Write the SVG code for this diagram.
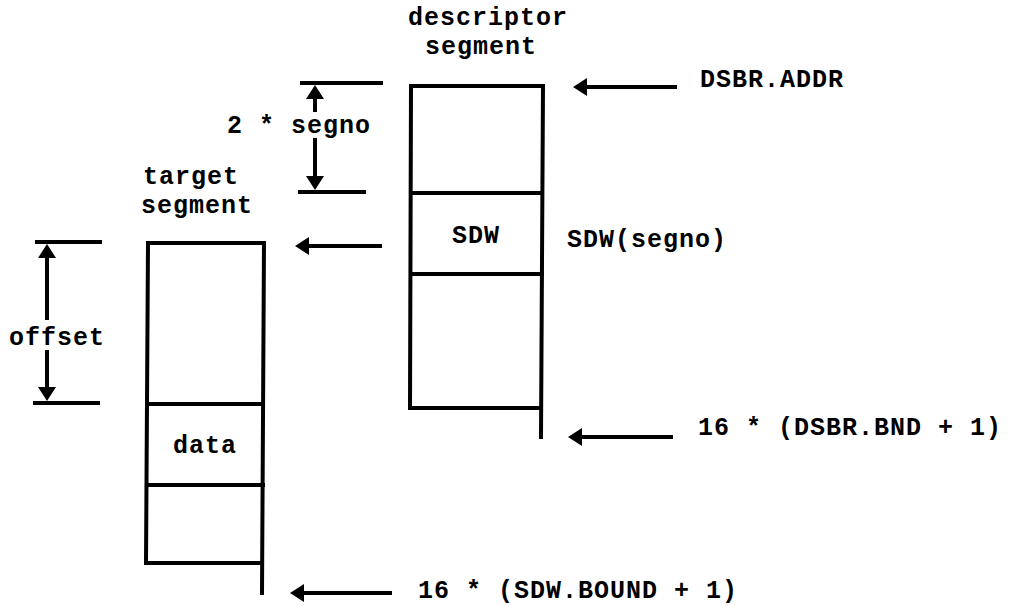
<svg xmlns="http://www.w3.org/2000/svg" width="1010" height="606" viewBox="0 0 1010 606">
<style>
.t{font-family:"Liberation Mono","DejaVu Sans Mono",monospace;font-size:25px;letter-spacing:1px;fill:#000;font-weight:bold}
.b{fill:none;stroke:#000;stroke-width:4;stroke-linejoin:miter;stroke-linecap:square}
.c{fill:none;stroke:#000;stroke-width:4}
</style>
<defs>
<marker id="ah" viewBox="0 0 14 18" refX="4" refY="9" markerWidth="14" markerHeight="18" markerUnits="userSpaceOnUse" orient="auto">
<path d="M0,0 L14,9 L0,18 z" fill="#000"/>
</marker>
</defs>
<rect width="1010" height="606" fill="#fff"/>
<g id="descriptor-segment">
<text class="t" x="408" y="25">descriptor</text>
<text class="t" x="425" y="54">segment</text>
<path class="b" d="M410,408 L411,86 L543,86 L541,437"/>
<path class="b" d="M410,408 L541,408"/>
<path class="b" d="M411,193 L542,193"/>
<path class="b" d="M411,274 L542,274"/>
<text class="t" x="452" y="243">SDW</text>
</g>
<g id="target-segment">
<text class="t" x="143" y="184">target</text>
<text class="t" x="141" y="213">segment</text>
<path class="b" d="M146,563 L148,243 L264,243 L262,593"/>
<path class="b" d="M146,563 L262,563"/>
<path class="b" d="M147,404 L263,404"/>
<path class="b" d="M147,485 L263,485"/>
<text class="t" x="173" y="453">data</text>
</g>
<g id="labels">
<text class="t" x="700" y="87">DSBR.ADDR</text>
<text class="t" x="567" y="247">SDW(segno)</text>
<text class="t" x="698" y="435">16 * (DSBR.BND + 1)</text>
<text class="t" x="418" y="598">16 * (SDW.BOUND + 1)</text>
<text class="t" x="227" y="133">2 * segno</text>
<text class="t" x="9" y="345">offset</text>
</g>
<g id="connectors">
<path class="c" d="M677,87 L583,87" marker-end="url(#ah)"/>
<path class="c" d="M382,246 L305,246" marker-end="url(#ah)"/>
<path class="c" d="M673,437 L578,437" marker-end="url(#ah)"/>
<path class="c" d="M392,593 L300,593" marker-end="url(#ah)"/>
<path class="c" d="M300,83 L383,83"/>
<path class="c" d="M298,192 L366,192"/>
<path class="c" d="M315,112 L315,95" marker-end="url(#ah)"/>
<path class="c" d="M315,138 L315,180" marker-end="url(#ah)"/>
<path class="c" d="M35,242 L102,242"/>
<path class="c" d="M33,403 L100,403"/>
<path class="c" d="M47,320 L47,254" marker-end="url(#ah)"/>
<path class="c" d="M47,350 L47,391" marker-end="url(#ah)"/>
</g>
</svg>
